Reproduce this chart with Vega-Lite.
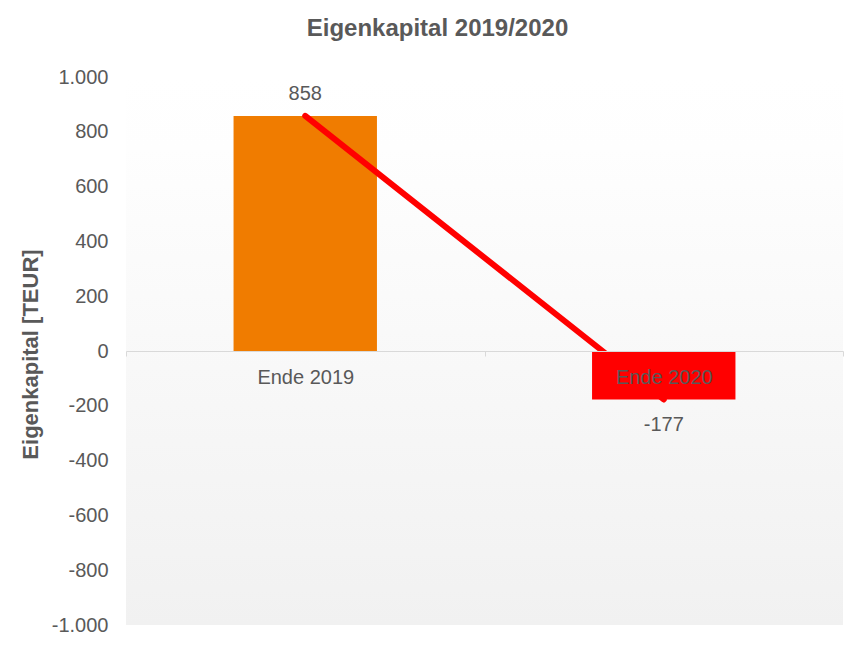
{
  "$schema": "https://vega.github.io/schema/vega-lite/v6.json",
  "width": 717,
  "height": 548,
  "autosize": {"type": "none"},
  "padding": {"left": 126, "top": 77, "right": 3, "bottom": 24},
  "background": "#ffffff",
  "title": {
    "text": "Eigenkapital 2019/2020",
    "fontSize": 24,
    "fontWeight": "bold",
    "color": "#595959",
    "font": "Liberation Sans",
    "anchor": "middle",
    "dx": -47,
    "offset": 26
  },
  "data": {
    "values": [
      {"category": "Ende 2019", "value": 858},
      {"category": "Ende 2020", "value": -177}
    ]
  },
  "encoding": {
    "x": {
      "field": "category",
      "type": "nominal",
      "sort": null,
      "scale": {"type": "band", "paddingInner": 0, "paddingOuter": 0},
      "axis": {
        "title": null,
        "orient": "bottom",
        "offset": -274,
        "zindex": 1,
        "labelAngle": 0,
        "labelFontSize": 20,
        "labelColor": "#595959",
        "labelPadding": 11,
        "domainColor": "#d9d9d9",
        "domainWidth": 1,
        "tickColor": "#d9d9d9",
        "tickSize": 5,
        "tickBand": "extent",
        "grid": false
      }
    },
    "y": {
      "field": "value",
      "type": "quantitative",
      "scale": {"domain": [-1000, 1000], "nice": false, "zero": false},
      "axis": {
        "title": "Eigenkapital [TEUR]",
        "titleFontSize": 22,
        "titleFontWeight": "bold",
        "titleColor": "#595959",
        "titleAngle": -90,
        "titleX": -96,
        "titleY": 277,
        "titleAlign": "center",
        "titleBaseline": "middle",
        "values": [-1000, -800, -600, -400, -200, 0, 200, 400, 600, 800, 1000],
        "format": ",d",
        "labelFontSize": 20,
        "labelColor": "#595959",
        "labelPadding": 18,
        "domain": false,
        "ticks": false,
        "grid": false
      }
    }
  },
  "layer": [
    {
      "mark": {"type": "bar", "width": {"band": 0.4}},
      "encoding": {
        "color": {
          "field": "category",
          "type": "nominal",
          "scale": {"domain": ["Ende 2019", "Ende 2020"], "range": ["#F07C00", "#FF0000"]},
          "legend": null
        }
      }
    },
    {
      "mark": {"type": "line", "color": "#FF0000", "strokeWidth": 6, "strokeCap": "round"},
      "encoding": {}
    },
    {
      "transform": [{"filter": "datum.value >= 0"}],
      "mark": {"type": "text", "baseline": "alphabetic", "dy": -16, "fontSize": 20, "color": "#595959"},
      "encoding": {"text": {"field": "value", "type": "quantitative", "format": ",d"}}
    },
    {
      "transform": [{"filter": "datum.value < 0"}],
      "mark": {"type": "text", "baseline": "alphabetic", "dy": 32, "fontSize": 20, "color": "#595959"},
      "encoding": {"text": {"field": "value", "type": "quantitative", "format": ",d"}}
    }
  ],
  "config": {
    "font": "Liberation Sans",
    "locale": {
      "number": {
        "decimal": ",",
        "thousands": ".",
        "grouping": [3],
        "currency": ["", " €"],
        "minus": "-"
      }
    },
    "view": {
      "stroke": null,
      "fill": {
        "gradient": "linear",
        "x1": 0, "y1": 0, "x2": 0, "y2": 1,
        "stops": [
          {"offset": 0, "color": "#ffffff"},
          {"offset": 0.13, "color": "#fefefe"},
          {"offset": 1, "color": "#f1f1f1"}
        ]
      }
    }
  }
}
